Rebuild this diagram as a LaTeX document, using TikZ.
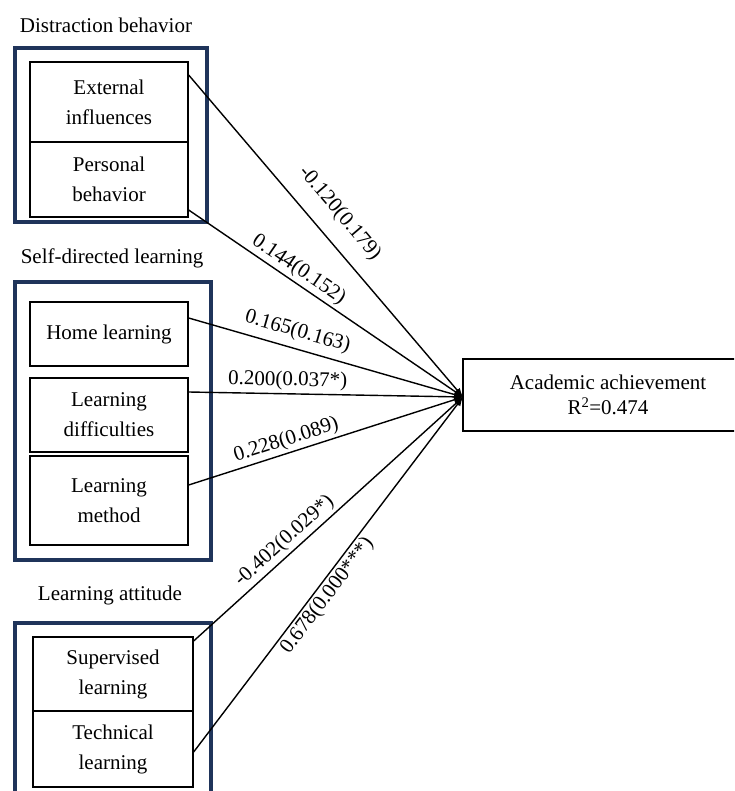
\documentclass[tikz,border=0pt]{standalone}
\usepackage{fontspec}
\setmainfont{Liberation Serif}
\usetikzlibrary{arrows.meta}
\definecolor{navy}{RGB}{31,52,90}
\begin{document}
\begin{tikzpicture}[x=1pt,y=-1pt,
  every node/.style={font=\fontsize{21}{30}\selectfont},
  inbox/.style={draw=black, line width=1.3pt, align=center, inner sep=0pt},
  grp/.style={draw=navy, line width=3.5pt, inner sep=0pt},
  conn/.style={line width=1.4pt, -{Latex[length=9pt,width=7pt]}},
  lbl/.style={sloped, inner sep=1pt}]
\clip (0,0) rectangle (734,791);
% group frames
\node[grp, minimum width=192pt, minimum height=174pt] (g1) at (111,135) {};
\node[grp, minimum width=196pt, minimum height=278pt] (g2) at (113,421) {};
\node[grp, minimum width=196pt, minimum height=177pt] (g3) at (113,711.5) {};
% titles
\node (t1) at (106,25) {Distraction behavior};
\node (t2) at (112,258) {Self-directed learning};
\node (t3) at (110,595) {Learning attitude};
% inner boxes
\node[inbox, minimum width=158pt, minimum height=80pt] (ext) at (109,102) {External\\influences};
\node[inbox, minimum width=158pt, minimum height=75pt] (per) at (109,179.5) {Personal\\behavior};
\node[inbox, minimum width=158pt, minimum height=64pt] (home) at (109,334) {Home learning};
\node[inbox, minimum width=158pt, minimum height=74pt] (diff) at (109,415) {Learning\\difficulties};
\node[inbox, minimum width=158pt, minimum height=89pt] (meth) at (109,500.5) {Learning\\method};
\node[inbox, minimum width=160pt, minimum height=74pt] (sup) at (113,674) {Supervised\\learning};
\node[inbox, minimum width=160pt, minimum height=76pt] (tech) at (113,749) {Technical\\learning};
% target
\node[inbox, minimum width=290pt, minimum height=72pt, font=\fontsize{21}{25}\selectfont] (tgt) at (608,395) {Academic achievement\\R\textsuperscript{2}=0.474};
\coordinate (hub) at (463,397);
% connectors
\draw[conn] ([yshift=27pt]ext.east) -- node[lbl, above=14pt, pos=0.48] {-0.120(0.179)} (hub);
\draw[conn] ([yshift=-30.5pt]per.east) -- node[lbl, above=1.5pt, pos=0.375] {0.144(0.152)} (hub);
\draw[conn] ([yshift=16pt]home.east) -- node[lbl, above=5.5pt, pos=0.38] {0.165(0.163)} (hub);
\draw[conn] ([yshift=23pt]diff.east) -- node[lbl, above=2pt, pos=0.36] {0.200(0.037*)} (hub);
\draw[conn] ([yshift=15.5pt]meth.east) -- node[lbl, above=1.5pt, pos=0.37] {0.228(0.089)} (hub);
\draw[conn] ([yshift=33pt]sup.east) -- node[lbl, above=2pt, pos=0.37] {-0.402(0.029*)} (hub);
\draw[conn] ([yshift=-3pt]tech.east) -- node[lbl, below=1pt, pos=0.46] {0.678(0.000***)} (hub);
\end{tikzpicture}
\end{document}
